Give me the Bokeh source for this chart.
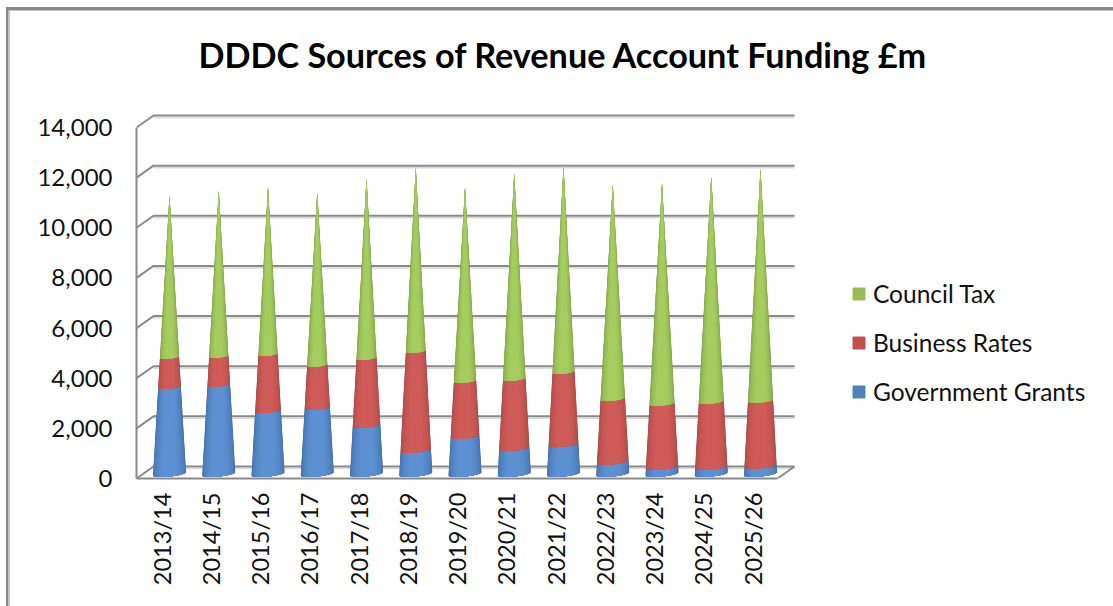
from math import pi, cos, sin
from bokeh.plotting import figure
from bokeh.models import (Range1d, FixedTicker, NumeralTickFormatter, Legend, LegendItem,
                          ColumnDataSource, Title)
from bokeh.embed import file_html
from bokeh.resources import INLINE

# ---- data
years = ["2013/14", "2014/15", "2015/16", "2016/17", "2017/18", "2018/19", "2019/20",
         "2020/21", "2021/22", "2022/23", "2023/24", "2024/25", "2025/26"]
government_grants = [3475, 3555, 2525, 2645, 1935, 950, 1500, 1025, 1180, 485, 275, 275, 325]
business_rates = [1185, 1145, 2250, 1700, 2685, 3950, 2210, 2770, 2890, 2515, 2530, 2610, 2600]
council_tax = [6445, 6605, 6650, 6880, 7165, 7325, 7715, 8190, 8195, 8545, 8780, 8980, 9260]
y_ticks = [0, 2000, 4000, 6000, 8000, 10000, 12000, 14000]

title_text = "DDDC Sources of Revenue Account Funding £m"
series = [
    ("Government Grants", government_grants, "#4f81bd", "#5c90d2", "#3c689e"),
    ("Business Rates", business_rates, "#c0504d", "#d05c59", "#a34340"),
    ("Council Tax", council_tax, "#9bbb59", "#a6cc60", "#76973f"),
]

# ---- layout (pixels of the figure)
W, H = 1113, 606
LEFT, RIGHT = 136, W          # frame left / right
TOP, BOTTOM = 80, 478         # frame top / bottom
PX_PER_CAT = 49.25
PX_PER_UNIT = 351 / 14000
X0_PX = 25
DEPTH_X, DEPTH_Y = 17, 12
CONE_DX, CONE_DY = 8, 4.6
R_BASE, ELLIPSE, SHEAR = 16.5, 0.16, 0.1
LAYERS = 9

sx = lambda px: px / PX_PER_CAT
sy = lambda px: px / PX_PER_UNIT
x_start = -sx(X0_PX)
x_end = x_start + sx(RIGHT - LEFT)
y_end = sy(BOTTOM - TOP)
x_axis_end = x_start + sx(641)   # floor front edge length
GRID = "#8a8a8a"
SHADOW = "#d9d9d9"


def mix(a, b, t):
    ca = [int(a[i:i + 2], 16) for i in (1, 3, 5)]
    cb = [int(b[i:i + 2], 16) for i in (1, 3, 5)]
    return "#%02x%02x%02x" % tuple(round(p + (q - p) * t) for p, q in zip(ca, cb))


p = figure(width=W, height=H, output_backend="svg", toolbar_location=None,
           x_range=Range1d(x_start, x_end), y_range=Range1d(0, y_end),
           min_border_left=LEFT, min_border_right=0, min_border_top=TOP,
           min_border_bottom=H - BOTTOM)
p.title = Title(text=title_text, align="left", offset=62, text_font="Lato",
                text_font_style="bold", text_font_size="34.2px", text_color="#000000", standoff=11)
p.outline_line_color = None
p.xgrid.visible = False
p.ygrid.visible = False
p.border_fill_color = None
p.background_fill_color = None
p.styles = {"background":
            "linear-gradient(#888888,#888888) 6px 7px / 100% 3px no-repeat,"
            "linear-gradient(#888888,#888888) 6px 7px / 2.5px 100% no-repeat,"
            "linear-gradient(#c4c4c4,#c4c4c4) 8px 10px / 100% 1px no-repeat,"
            "linear-gradient(#c4c4c4,#c4c4c4) 8.5px 10px / 1px 100% no-repeat,"
            "#ffffff"}

# walls: oblique stubs and back lines at every tick value
wall_xs, wall_ys, shadow_xs, shadow_ys = [], [], [], []
for t in y_ticks:
    wall_xs.append([x_start, x_start + sx(DEPTH_X), x_start + sx(658)])
    wall_ys.append([t, t + sy(DEPTH_Y), t + sy(DEPTH_Y)])
    shadow_xs.append([x_start + sx(DEPTH_X), x_start + sx(658)])
    shadow_ys.append([t + sy(DEPTH_Y - 2), t + sy(DEPTH_Y - 2)])
p.multi_line(shadow_xs, shadow_ys, line_color=SHADOW, line_width=1.5)
p.multi_line(wall_xs, wall_ys, line_color=GRID, line_width=2)
p.line([x_axis_end, x_axis_end + sx(DEPTH_X)], [0, sy(DEPTH_Y)], line_color=GRID, line_width=2)

# cones: nested shapes, from the dark rim towards the lighter centre
xs, ys, cols = [], [], []
for i in range(len(years)):
    total = government_grants[i] + business_rates[i] + council_tax[i]
    base = 0
    cx = i + sx(CONE_DX)
    for name, vals, _, centre, edge in series:
        top = base + vals[i]

        def pt(v, th):
            r = R_BASE * (1 - v / total)
            dx = r * cos(th)
            dy = r * ELLIPSE * sin(th) + dx * SHEAR
            return cx + sx(dx), v + sy(CONE_DY) + sy(dy)

        for k in range(LAYERS):
            inset = k / LAYERS * (pi / 2) * 0.8
            n = 24
            angles = [pi + inset + (pi - 2 * inset) * j / n for j in range(n + 1)]
            ring = [pt(base, a) for a in angles] + [pt(top, a) for a in reversed(angles)]
            xs.append([q[0] for q in ring])
            ys.append([q[1] for q in ring])
            cols.append(mix(edge, centre, (k / (LAYERS - 1)) ** 0.6))
        base = top
p.patches("xs", "ys", source=ColumnDataSource(dict(xs=xs, ys=ys, col=cols)),
          fill_color="col", line_color=None)

# axes
ax = p.xaxis[0]
ax.ticker = FixedTicker(ticks=list(range(len(years))))
ax.major_label_overrides = {i: y for i, y in enumerate(years)}
ax.major_label_orientation = pi / 2
ax.bounds = (x_start, x_axis_end)
ax.major_tick_in = ax.major_tick_out = ax.minor_tick_in = ax.minor_tick_out = 0
ax.axis_line_color = GRID
ax.axis_line_width = 2
ax.major_label_text_font = "Lato"
ax.major_label_text_font_size = "23.6px"
ax.major_label_text_color = "#111111"
ax.major_label_standoff = 14

ay = p.yaxis[0]
ay.ticker = FixedTicker(ticks=y_ticks)
ay.formatter = NumeralTickFormatter(format="0,0")
ay.bounds = (0, 14000)
ay.major_tick_in = ay.major_tick_out = ay.minor_tick_in = ay.minor_tick_out = 0
ay.axis_line_color = GRID
ay.axis_line_width = 2
ay.major_label_text_font = "Lato"
ay.major_label_text_font_size = "24px"
ay.major_label_text_color = "#111111"
ay.major_label_standoff = 24

# legend
items = []
for name, _, colour, _, _ in reversed(series):
    r = p.patches([[]], [[]], fill_color=colour, line_color=colour)
    items.append(LegendItem(label=name, renderers=[r]))
legend = Legend(items=items, location=(715, 72),
                orientation="vertical", border_line_color=None, background_fill_alpha=0,
                glyph_width=15, glyph_height=15, label_standoff=7, spacing=20, padding=0,
                margin=0, label_text_font="Lato", label_text_font_size="24.5px",
                label_text_color="#111111", label_height=20)
p.add_layout(legend)

open("out.html", "w").write(file_html(p, INLINE))
